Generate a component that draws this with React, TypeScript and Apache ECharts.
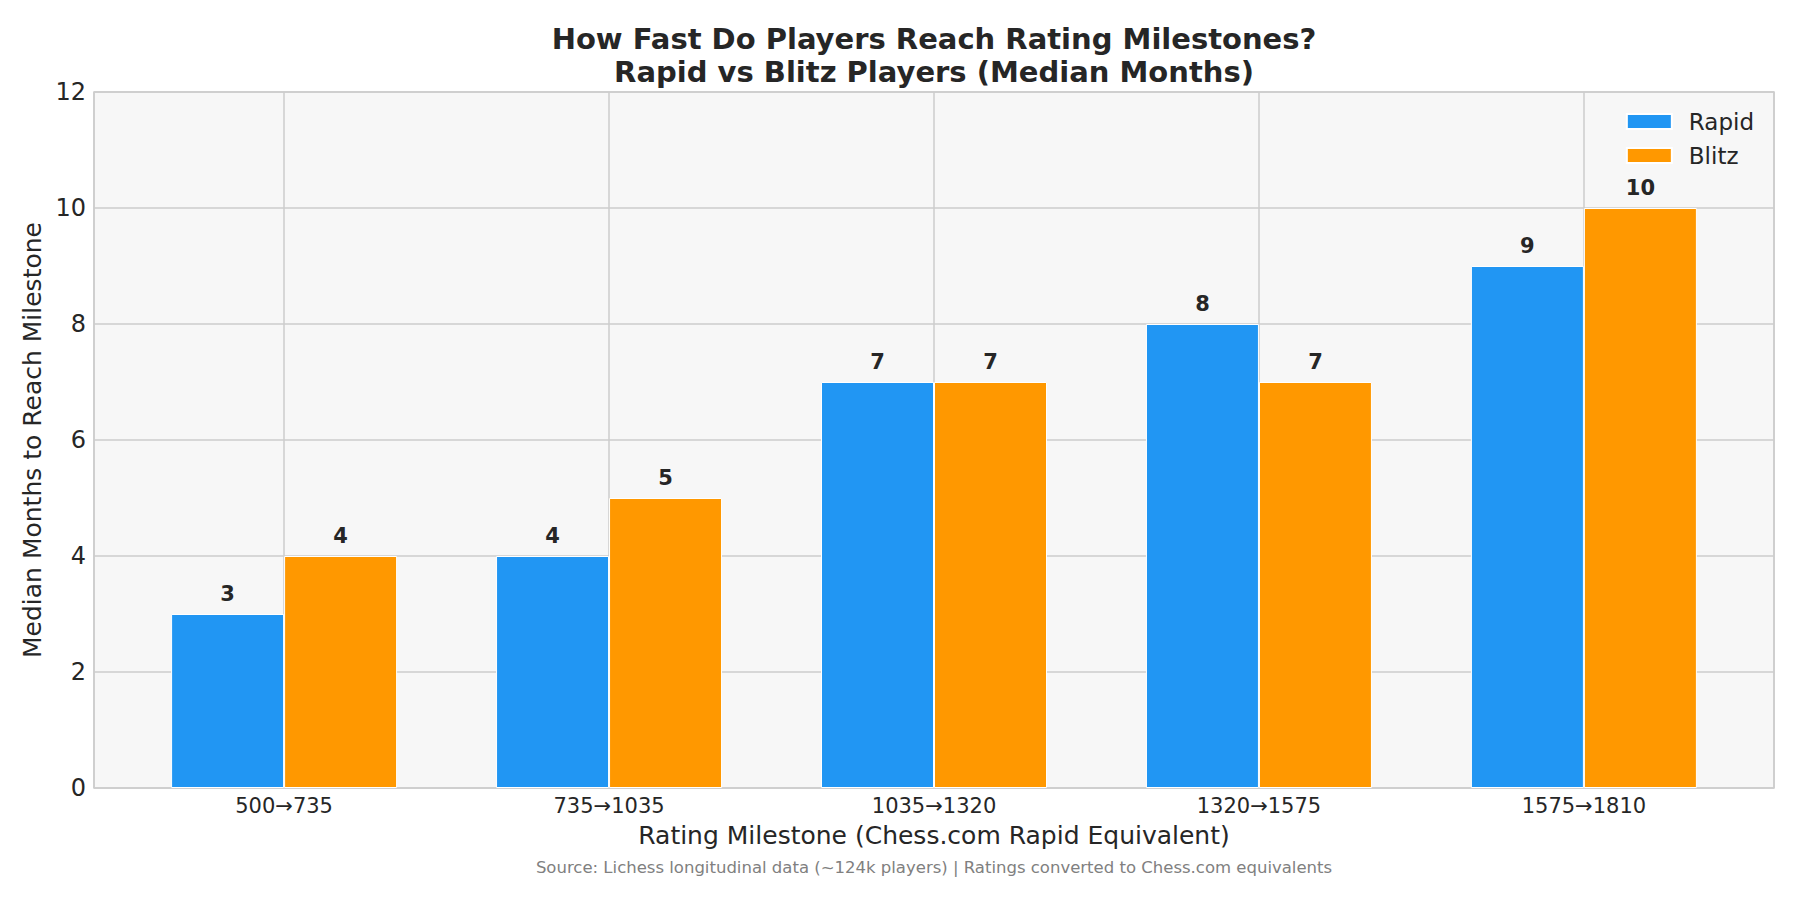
import { useEffect, useRef } from "react";
import * as echarts from "echarts";

const categories = ["500→735", "735→1035", "1035→1320", "1320→1575", "1575→1810"];
const rapid = [3, 4, 7, 8, 9];
const blitz = [4, 5, 7, 7, 10];
const yTicks = [0, 2, 4, 6, 8, 10, 12];

const FONT = "DejaVu Sans";
const INK = "#262626";
const GRID = "#cccccc";

export default function App() {
  const elRef = useRef<HTMLDivElement>(null);

  useEffect(() => {
    if (!elRef.current) return;
    const chart = echarts.init(elRef.current, null, { renderer: "svg" });

    const toPoints = (vals: number[]) => vals.map((v, i) => [i, v]);
    const barLabel = {
      show: true,
      position: "top",
      distance: 10,
      color: INK,
      fontFamily: FONT,
      fontWeight: "bold",
      fontSize: 21,
    };

    chart.setOption({
      animation: false,
      backgroundColor: "#ffffff",
      textStyle: { fontFamily: FONT },
      graphic: [
        {
          type: "text",
          x: 934,
          y: 22,
          style: {
            text: "How Fast Do Players Reach Rating Milestones?\nRapid vs Blitz Players (Median Months)",
            fill: INK,
            font: `bold 29px '${FONT}'`,
            textAlign: "center",
            textVerticalAlign: "top",
            lineHeight: 33,
          },
        },
        {
          type: "text",
          x: 934,
          y: 867,
          style: {
            text: "Source: Lichess longitudinal data (~124k players) | Ratings converted to Chess.com equivalents",
            fill: "#808080",
            font: `16.5px '${FONT}'`,
            textAlign: "center",
            textVerticalAlign: "middle",
          },
        },
      ],
      legend: {
        data: ["Rapid", "Blitz"],
        orient: "vertical",
        right: 41,
        top: 105,
        icon: "rect",
        itemWidth: 45,
        itemHeight: 15,
        itemGap: 11,
        textStyle: { color: INK, fontSize: 23, fontFamily: FONT, padding: [0, 0, 0, 12] },
      },
      grid: {
        left: 94,
        right: 26,
        top: 92,
        bottom: 112,
        show: true,
        backgroundColor: "#f7f7f7",
        borderColor: GRID,
        borderWidth: 1.5,
      },
      xAxis: {
        type: "value",
        min: -0.585,
        max: 4.585,
        splitNumber: 5,
        minInterval: 1,
        maxInterval: 1,
        axisLine: { show: false },
        axisTick: { show: false },
        splitLine: { show: true, lineStyle: { color: GRID, width: 1.5 } },
        axisLabel: {
          color: INK,
          fontSize: 21,
          fontFamily: FONT,
          margin: 7,
          showMinLabel: false,
          showMaxLabel: false,
          formatter: (v: number) => (Number.isInteger(v) && categories[v] ? categories[v] : ""),
        },
        name: "Rating Milestone (Chess.com Rapid Equivalent)",
        nameLocation: "middle",
        nameGap: 35,
        nameTextStyle: { color: INK, fontSize: 25, fontFamily: FONT },
      },
      yAxis: {
        type: "value",
        min: yTicks[0],
        max: yTicks[yTicks.length - 1],
        interval: 2,
        axisLine: { show: false },
        axisTick: { show: false },
        splitLine: { show: true, lineStyle: { color: GRID, width: 1.5 } },
        axisLabel: { color: INK, fontSize: 24, fontFamily: FONT, margin: 8 },
        name: "Median Months to Reach Milestone",
        nameLocation: "middle",
        nameGap: 45,
        nameTextStyle: { color: INK, fontSize: 25, fontFamily: FONT },
      },
      series: [
        {
          name: "Rapid",
          type: "bar",
          data: toPoints(rapid),
          barWidth: 113,
          barGap: "0%",
          itemStyle: { color: "#2196F3", borderColor: "#ffffff", borderWidth: 1 },
          label: barLabel,
        },
        {
          name: "Blitz",
          type: "bar",
          data: toPoints(blitz),
          barWidth: 113,
          barGap: "0%",
          itemStyle: { color: "#FF9800", borderColor: "#ffffff", borderWidth: 1 },
          label: barLabel,
        },
      ],
    });

    return () => chart.dispose();
  }, []);

  return (
    <div
      ref={elRef}
      style={{ position: "fixed", left: 0, top: 0, width: 1800, height: 900 }}
    />
  );
}
